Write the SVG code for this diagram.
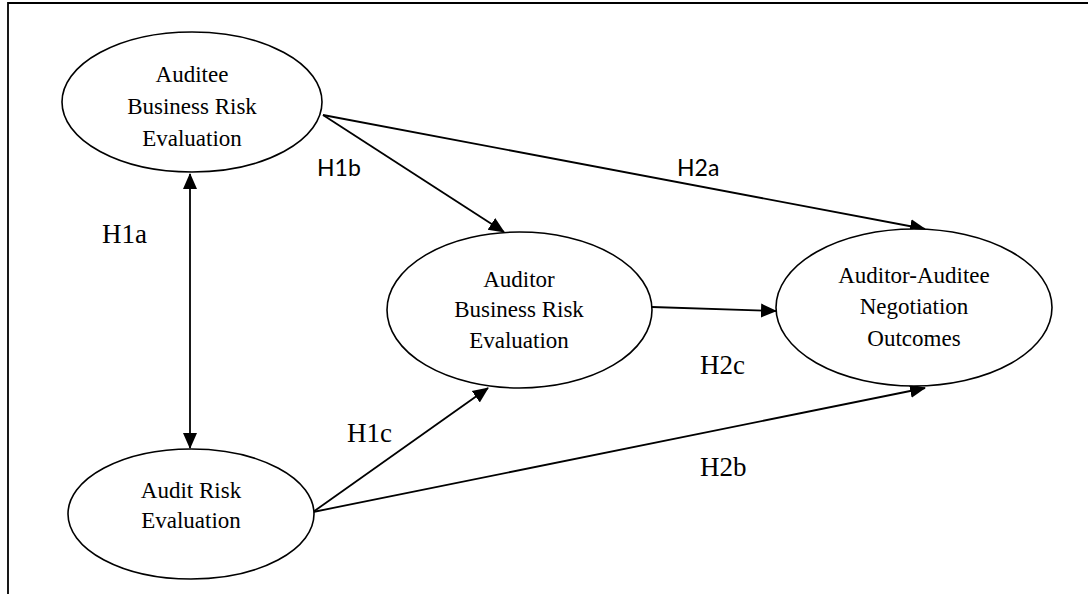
<svg xmlns="http://www.w3.org/2000/svg" width="1088" height="594" viewBox="0 0 1088 594">
<style>
.node{fill:#fff;stroke:#000;stroke-width:1.6}
.nt{font-family:"Liberation Serif","Times New Roman",serif;font-size:23px;fill:#000;text-anchor:middle}
.ls{font-family:"Liberation Serif","Times New Roman",serif;font-size:27px;fill:#000}
.lc{font-family:Lato,"Open Sans",sans-serif;font-size:23px;fill:#000}
.edge{stroke:#000;stroke-width:1.8;fill:none}
</style>
<defs>
<marker id="ah" markerUnits="userSpaceOnUse" markerWidth="16" markerHeight="16" viewBox="0 0 16 16" refX="15" refY="8" orient="auto-start-reverse">
<path d="M0,1 L16,8 L0,15 Z" fill="#000"/>
</marker>
</defs>
<rect width="1088" height="594" fill="#fff"/>
<g id="frame">
<path d="M8,594 L8,3 L1088,3" fill="none" stroke="#000" stroke-width="1.8"/>
</g>
<g id="connectors">
<line class="edge" x1="190" y1="174" x2="190" y2="448" marker-start="url(#ah)" marker-end="url(#ah)"/>
<line class="edge" x1="323" y1="115" x2="504" y2="232" marker-end="url(#ah)"/>
<line class="edge" x1="323" y1="115" x2="925" y2="229" marker-end="url(#ah)"/>
<line class="edge" x1="652" y1="307" x2="776" y2="311" marker-end="url(#ah)"/>
<line class="edge" x1="313" y1="512" x2="488" y2="388" marker-end="url(#ah)"/>
<line class="edge" x1="313" y1="512" x2="925" y2="388" marker-end="url(#ah)"/>
</g>
<g id="auditee">
<ellipse class="node" cx="192" cy="102" rx="130" ry="70"/>
<text class="nt" x="192" y="82">Auditee</text>
<text class="nt" x="192" y="114">Business Risk</text>
<text class="nt" x="192" y="146">Evaluation</text>
</g>
<g id="auditrisk">
<ellipse class="node" cx="191" cy="514" rx="123" ry="65"/>
<text class="nt" x="191" y="498">Audit Risk</text>
<text class="nt" x="191" y="528">Evaluation</text>
</g>
<g id="auditor">
<ellipse class="node" cx="519.5" cy="310" rx="132.5" ry="78"/>
<text class="nt" x="519" y="287">Auditor</text>
<text class="nt" x="519" y="317">Business Risk</text>
<text class="nt" x="519" y="348">Evaluation</text>
</g>
<g id="negotiation">
<ellipse class="node" cx="914" cy="307.5" rx="138" ry="78.5"/>
<text class="nt" x="914" y="283">Auditor-Auditee</text>
<text class="nt" x="914" y="314">Negotiation</text>
<text class="nt" x="914" y="346">Outcomes</text>
</g>
<g id="labels">
<text class="ls" x="102" y="243">H1a</text>
<text class="lc" x="317" y="176">H1b</text>
<text class="ls" x="347" y="442">H1c</text>
<text class="lc" x="677" y="176">H2a</text>
<text class="ls" x="700" y="476">H2b</text>
<text class="ls" x="700" y="374">H2c</text>
</g>
</svg>
